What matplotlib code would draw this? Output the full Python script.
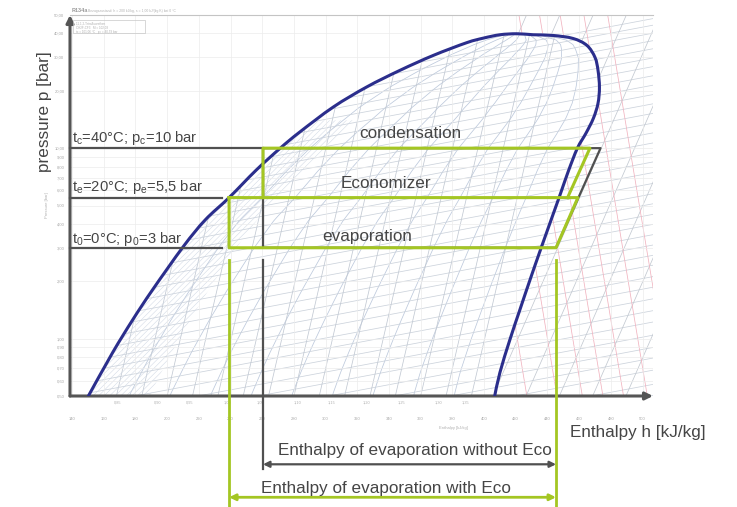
import numpy as np
import matplotlib
matplotlib.use("Agg")
import matplotlib.pyplot as plt
from matplotlib.patches import Polygon, Rectangle, PathPatch
from matplotlib.path import Path
from matplotlib.ticker import NullLocator
from matplotlib.transforms import blended_transform_factory

plt.rcParams['font.family'] = ['Liberation Sans', 'DejaVu Sans']
plt.rcParams['mathtext.fontset'] = 'custom'
plt.rcParams['mathtext.rm'] = 'Liberation Sans'
plt.rcParams['mathtext.it'] = 'Liberation Sans'
plt.rcParams['hatch.linewidth'] = 0.35

# ---- saturation dome, R134a (h in kJ/kg, p in bar) ----
liq_h = [150.3, 165.6, 178.3, 190.8, 210.2, 224.0, 239.1, 256.2, 271.4, 283.8,
         304.9, 325.9, 346.9, 368.0, 389.0, 399.5, 410.0]
liq_p = [0.50, 0.845, 1.257, 1.805, 3.043, 4.198, 5.5, 7.67, 10.0, 12.17,
         16.45, 20.94, 25.61, 30.69, 35.77, 37.8, 39.38]
crit_h, crit_p = 420.6, 39.86
vap_h = [431.0, 443.5, 456.1, 464.9, 470.0, 471.9, 472.8, 471.9, 469.0, 464.3,
         458.9, 453.2, 447.9, 436.3, 429.0, 422.6, 416.3, 410.0, 406.7]
vap_p = [39.38, 39.05, 37.66, 34.62, 29.95, 25.61, 20.86, 17.20, 14.36, 11.98,
         10.0, 7.58, 5.675, 3.043, 2.037, 1.418, 0.988, 0.664, 0.50]

# ---- cycle states ----
p_cond, p_eco, p_evap = 10.0, 5.5, 3.0
h_cond_liq = 260.5      # liquid leaving condenser
h_eco_liq = 239.1       # liquid leaving economizer
h_suction = 445.4       # compressor suction
h_eco_vap = 459.2       # low stage discharge at economizer pressure
h_mix = 452.7           # after injection of economizer vapour
h_dis_eco = 466.8       # discharge with economizer
h_dis = 473.5           # discharge without economizer
h_ref_end = 234.6       # end of the pressure reference lines

# ---- chart background families ----
qualities = [0.1, 0.2, 0.3, 0.4, 0.5, 0.6, 0.7, 0.8, 0.9]
isochore_p0 = [0.14, 0.16, 0.19, 0.22, 0.25, 0.29, 0.34, 0.39, 0.45, 0.52, 0.6,
               0.7, 0.8, 0.92, 1.06, 1.22, 1.4, 1.62, 1.86, 2.15, 2.5, 2.9,
               3.3, 3.8, 4.4, 5.1, 5.9, 6.8, 7.8, 9.0, 10.4, 12.0, 13.8, 16.0,
               18.4, 21.0, 24.5, 28.0]
wet_isentrope_h = [168, 184, 200, 216, 232, 248, 264, 280, 296, 312, 328, 344,
                   360, 376, 392]
dry_isentrope_h10 = [390, 411, 432, 453, 474, 495, 516, 537, 558, 579]
isotherm_h_low = [427, 446, 462, 475, 488, 503, 518]

p_ticks = [0.5, 0.6, 0.7, 0.8, 0.9, 1, 2, 3, 4, 5, 6, 7, 8, 9, 10, 20, 30, 40, 50]
h_ticks = list(range(140, 501, 20))
s_label_h = [169, 194, 214, 238, 259, 282, 304, 326, 348, 371, 388]
s_label_txt = ['0,85', '0,90', '0,95', '1,00', '1,05', '1,10', '1,15', '1,20',
               '1,25', '1,30', '1,35']

W, H = 737, 507
fig = plt.figure(figsize=(W / 100, H / 100), dpi=100)
ax = fig.add_axes([70 / W, 1 - 396 / H, 583 / W, 381 / H])
ax.set_yscale('log')
ax.set_xlim(138.7, 506.6)
ax.set_ylim(0.503, 49.7)


def fx(px):
    return px / W


def fy(py):
    return 1 - py / H


def branch_h(hs, ps, p):
    lp = np.log10(ps)
    order = np.argsort(lp)
    return np.interp(np.log10(p), lp[order], np.asarray(hs)[order])


def smooth_path(hs, ps):
    """Catmull-Rom curve through the points, as cubic Bezier segments in (h, log p)."""
    pts = np.column_stack([hs, np.log10(ps)])
    n = len(pts)
    verts, codes = [pts[0]], [Path.MOVETO]
    for i in range(n - 1):
        a = pts[i - 1] if i > 0 else pts[i]
        d = pts[i + 2] if i + 2 < n else pts[i + 1]
        c1 = pts[i] + (pts[i + 1] - a) / 6.0
        c2 = pts[i + 1] - (d - pts[i]) / 6.0
        verts += [c1, c2, pts[i + 1]]
        codes += [Path.CURVE4] * 3
    verts = np.array(verts)
    verts[:, 1] = 10 ** verts[:, 1]
    return Path(verts, codes)


# ---- background grid and ticks ----
ax.set_yticks(p_ticks)
ax.set_yticklabels([f"{v:.2f}".replace('.', ',') for v in p_ticks])
ax.yaxis.set_minor_locator(NullLocator())
ax.set_xticks(h_ticks)
ax.set_xticklabels([str(v) for v in h_ticks])
ax.tick_params(axis='y', length=0, labelsize=3.0, labelcolor='#a8a8a8', pad=4)
ax.tick_params(axis='x', length=0, labelsize=3.0, labelcolor='#a8a8a8', pad=15)
ax.grid(True, color='#ececec', lw=0.5, zorder=0)
for side in ('left', 'bottom', 'right'):
    ax.spines[side].set_visible(False)
ax.spines['top'].set_color('#c4c4c4')
ax.spines['top'].set_linewidth(0.8)

# clip regions: two-phase dome and superheated/supercritical region
dome_verts = list(zip(liq_h, liq_p)) + [(crit_h, crit_p)] + list(zip(vap_h, vap_p)) \
    + [(vap_h[-1], 0.2), (liq_h[0], 0.2)]
dome_clip = Polygon(dome_verts, closed=True, transform=ax.transData)
sup_verts = [(vap_h[-1], 0.2)] + list(zip(vap_h[::-1], vap_p[::-1])) + \
    [(crit_h, crit_p), (crit_h, 90), (560, 90), (560, 0.2)]
sup_clip = Polygon(sup_verts, closed=True, transform=ax.transData)

mesh_lw = 0.55

# vapour quality lines
pq = np.logspace(np.log10(0.3), np.log10(39.0), 90)
hl = branch_h(liq_h, liq_p, pq)
hv = branch_h(vap_h, vap_p, pq)
for q in qualities:
    ax.plot(hl + q * (hv - hl), pq, color='#bdc9dc', lw=mesh_lw, zorder=1)

# isochores
k_v = 0.00156
for p0 in isochore_p0:
    h0 = float(branch_h(liq_h, liq_p, p0))
    hh = np.array([h0, 520.0])
    ax.plot(hh, p0 * 10 ** (k_v * (hh - h0)), color='#ccd3dc', lw=mesh_lw, zorder=1)

# isentropes in the wet region
for h0 in wet_isentrope_h:
    hh = np.array([h0, h0 + 60.0])
    ln, = ax.plot(hh, 0.5 * 10 ** (0.036 * (hh - h0)), color='#c2c9d3',
                  lw=mesh_lw, zorder=1)
    ln.set_clip_path(dome_clip)

# isentropes in the superheated region
for h10 in dry_isentrope_h10:
    hh = np.array([h10 - 90.0, h10 + 45.0])
    ln, = ax.plot(hh, 10 * 10 ** (0.019 * (hh - h10)), color='#c3c9d1',
                  lw=mesh_lw, zorder=1)
    ln.set_clip_path(sup_clip)

# isotherms in the superheated region
for hb in isotherm_h_low:
    pp = np.array([0.3, 60.0])
    ln, = ax.plot(hb - 20.0 * np.log10(pp / 0.5), pp, color='#f1b3bf',
                  lw=mesh_lw, zorder=1)
    ln.set_clip_path(sup_clip)

# fine hatching in the liquid-rich part of the dome
pq2 = np.logspace(np.log10(0.4), np.log10(14.0), 40)
h_hatch = branch_h(liq_h, liq_p, pq2) + 0.15 * (branch_h(vap_h, vap_p, pq2)
                                                 - branch_h(liq_h, liq_p, pq2))
hatch_verts = list(zip(branch_h(liq_h, liq_p, pq2), pq2)) + \
    list(zip(h_hatch[::-1], pq2[::-1]))
ax.add_patch(Polygon(hatch_verts, closed=True, facecolor='none',
                     edgecolor='#cfd7e3', lw=0, hatch='//////', zorder=1))

# entropy labels along the bottom edge
trans_b = blended_transform_factory(ax.transData, ax.transAxes)
for hs, txt in zip(s_label_h, s_label_txt):
    ax.text(hs, -0.012, txt, transform=trans_b, fontsize=2.8, color='#b0b0b0',
            ha='center', va='top', clip_on=False)
fig.text(fx(453), fy(428), 'Enthalpy [kJ/kg]', fontsize=3, color='#b0b0b0',
         ha='center', va='center')
fig.text(fx(47), fy(205), 'Pressure [bar]', fontsize=3, color='#b0b0b0',
         rotation=90, ha='center', va='center')

# header and small legend box of the chart
fig.text(fx(72), fy(11), 'R134a', fontsize=4, color='#9a9a9a', fontweight='bold',
         va='center')
fig.text(fx(88), fy(11), 'Bezugszustand: h = 200 kJ/kg, s = 1,00 kJ/(kg K) bei 0 °C',
         fontsize=2.4, color='#b0b0b0', va='center')
fig.patches.append(Rectangle((fx(73), fy(33)), fx(145) - fx(73), fy(20) - fy(33),
                             transform=fig.transFigure, fill=False,
                             edgecolor='#c8c8c8', lw=0.5))
for i, line in enumerate(['1,1,1,2-Tetrafluorethan', 'CH2F-CF3   M = 102,03',
                          'tc = 101,06 °C   pc = 40,59 bar']):
    fig.text(fx(76), fy(23.5 + 4 * i), line, fontsize=2.2, color='#b0b0b0',
             va='center')

# ---- axes with arrows ----
axis_col = '#555555'
ax.annotate('', xy=(0, 1.0), xytext=(0, 0), xycoords='axes fraction',
            arrowprops=dict(arrowstyle='-|>', color=axis_col, lw=2.2,
                            mutation_scale=11, shrinkA=0, shrinkB=0),
            annotation_clip=False)
ax.annotate('', xy=(1.0, 0), xytext=(0, 0), xycoords='axes fraction',
            arrowprops=dict(arrowstyle='-|>', color=axis_col, lw=2.2,
                            mutation_scale=11, shrinkA=0, shrinkB=0),
            annotation_clip=False)

# ---- saturation dome ----
dome_h = liq_h + [crit_h] + vap_h
dome_p = liq_p + [crit_p] + vap_p
ax.add_patch(PathPatch(smooth_path(dome_h, dome_p), fill=False,
                       edgecolor='#2b2e8c', lw=2.2, zorder=5,
                       joinstyle='round', capstyle='round'))

# ---- pressure reference lines ----
gray = '#505050'
green = '#a4c623'
ax.plot([138.7, h_cond_liq], [p_cond, p_cond], color=gray, lw=1.6, zorder=6,
        clip_on=False)
for p in (p_eco, p_evap):
    ax.plot([138.7, h_ref_end], [p, p], color=gray, lw=1.6, zorder=6, clip_on=False)

# ---- cycle without economizer ----
ax.plot([h_cond_liq, h_dis, h_suction, h_cond_liq, h_cond_liq],
        [p_cond, p_cond, p_evap, p_evap, p_cond], color=gray, lw=1.6, zorder=6)

# ---- cycle with economizer ----
ax.plot([h_cond_liq, h_cond_liq, h_dis_eco, h_mix],
        [p_eco, p_cond, p_cond, p_eco], color=green, lw=2.2, zorder=7)
ax.plot([h_eco_liq, h_eco_vap, h_suction, h_eco_liq, h_eco_liq],
        [p_eco, p_eco, p_evap, p_evap, p_eco], color=green, lw=2.2, zorder=7)

# ---- enthalpy of evaporation brackets ----
p_top = 2.59
p_arrow_gray, p_gray_end = 0.219, 0.206
p_arrow_green, p_green_end = 0.147, 0.10
ax.plot([h_cond_liq, h_cond_liq], [p_top, p_gray_end], color=gray, lw=1.6,
        zorder=6, clip_on=False)
ax.plot([h_eco_liq, h_eco_liq], [p_top, p_green_end], color=green, lw=2.0,
        zorder=7, clip_on=False)
ax.plot([h_suction, h_suction], [p_top, p_green_end], color=green, lw=2.0,
        zorder=7, clip_on=False)
ax.annotate('', xy=(h_suction, p_arrow_gray), xytext=(h_cond_liq, p_arrow_gray),
            arrowprops=dict(arrowstyle='<|-|>', color=gray, lw=1.6,
                            mutation_scale=9, shrinkA=0, shrinkB=0),
            annotation_clip=False)
ax.annotate('', xy=(h_suction, p_arrow_green), xytext=(h_eco_liq, p_arrow_green),
            arrowprops=dict(arrowstyle='<|-|>', color=green, lw=2.0,
                            mutation_scale=9, shrinkA=0, shrinkB=0),
            annotation_clip=False)

# ---- text ----
tcol = '#454545'
fs = 12.3
fig.text(fx(410), fy(133), 'condensation', fontsize=fs, color=tcol,
         ha='center', va='center')
fig.text(fx(386), fy(183), 'Economizer', fontsize=fs, color=tcol,
         ha='center', va='center')
fig.text(fx(367), fy(237), 'evaporation', fontsize=fs, color=tcol,
         ha='center', va='center')
fig.text(fx(72), fy(138), r't$_\mathregular{c}$=40°C; p$_\mathregular{c}$=10 bar',
         fontsize=10.6, color=tcol, ha='left', va='center')
fig.text(fx(72), fy(187), r't$_\mathregular{e}$=20°C; p$_\mathregular{e}$=5,5 bar',
         fontsize=10.6, color=tcol, ha='left', va='center')
fig.text(fx(72), fy(239), r't$_\mathregular{0}$=0°C; p$_\mathregular{0}$=3 bar',
         fontsize=10.6, color=tcol, ha='left', va='center')
fig.text(fx(415), fy(450), 'Enthalpy of evaporation without Eco', fontsize=fs,
         color=tcol, ha='center', va='center')
fig.text(fx(386), fy(488), 'Enthalpy of evaporation with Eco', fontsize=fs,
         color=tcol, ha='center', va='center')
fig.text(fx(570), fy(432), 'Enthalpy h [kJ/kg]', fontsize=fs, color=tcol,
         ha='left', va='center')
fig.text(fx(45), fy(112), 'pressure p [bar]', fontsize=fs, color=tcol,
         rotation=90, ha='center', va='center')

fig.savefig('out.png', dpi=100)
